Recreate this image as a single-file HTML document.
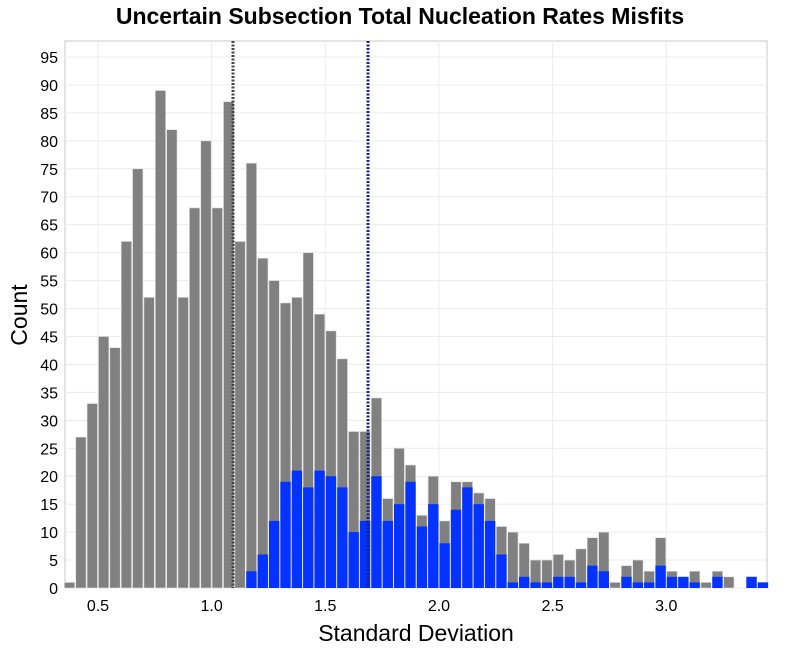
<!DOCTYPE html>
<html><head><meta charset="utf-8"><style>
body{margin:0;background:#fff;}
svg text{font-family:"Liberation Sans","DejaVu Sans",sans-serif;}
</style></head><body>
<svg id="chart" width="800" height="650" xmlns="http://www.w3.org/2000/svg">
<text x="400" y="24" text-anchor="middle" font-size="23" font-weight="bold" fill="#000">Uncertain Subsection Total Nucleation Rates Misfits</text>
<rect x="65" y="41" width="702" height="547" fill="#fff" stroke="#c8c8c8"/>
<g id="grid"></g><g id="bars"></g><g id="lines"></g><g id="ticks"></g>
<text x="416" y="641" text-anchor="middle" font-size="23" fill="#000">Standard Deviation</text>
<text transform="translate(27,315) rotate(-90)" text-anchor="middle" font-size="23" fill="#000">Count</text>
</svg>
<script>
const binStart = 0.35;
const binWidth = 0.05;
const grayCounts = [1,27,33,45,43,62,75,52,89,82,52,68,80,68,87,62,76,59,55,51,52,60,49,46,41,28,28,34,16,25,22,13,20,12,19,19,17,16,11,10,8,5,5,6,5,7,9,10,1,4,5,3,9,3,2,3,1,3,2,0,2,1];
const blueCounts = [0,0,0,0,0,0,0,0,0,0,0,0,0,0,0,0,3,6,12,19,21,18,21,20,18,10,12,20,12,15,19,11,15,8,14,18,15,12,6,1,2,1,1,2,2,1,4,3,0,2,1,1,4,2,2,1,0,2,0,0,2,1];
const vLines = [1.094, 1.688];
const yTicks = [0,5,10,15,20,25,30,35,40,45,50,55,60,65,70,75,80,85,90,95];
const xTicks = [0.5,1.0,1.5,2.0,2.5,3.0];
const NS='http://www.w3.org/2000/svg';
const X0=65,X1=767,Y0=588,Y1=41,XMIN=0.355,XMAX=3.443;
const xs=v=>X0+(v-XMIN)/(XMAX-XMIN)*(X1-X0);
const ys=v=>Y0-v*(Y0-57)/95;
function mk(t,a,p){const e=document.createElementNS(NS,t);for(const k in a)e.setAttribute(k,a[k]);document.getElementById(p).appendChild(e);return e;}
yTicks.forEach(v=>{
 const g=mk('line',{x1:X0,x2:X1,y1:ys(v),y2:ys(v),stroke:'#ececec'},'grid');
 
 
 const t=mk('text',{x:58,y:ys(v)+6,'text-anchor':'end','font-size':'16',fill:'#000'},'ticks');
 t.textContent=v;
 
 
});
xTicks.forEach(v=>{
 const g=mk('line',{x1:xs(v),x2:xs(v),y1:Y1,y2:Y0,stroke:'#ececec'},'grid');
 
 
 const t=mk('text',{x:xs(v),y:611,'text-anchor':'middle','font-size':'16',fill:'#000'},'ticks');
 t.textContent=v.toFixed(1);
 
 
});
grayCounts.forEach((c,i)=>{
 const a=binStart+i*binWidth,b=a+binWidth;
 const x=xs(a),w=xs(b)-xs(a);
 if(c>0){
  const r=mk('rect',{x:x+0.5,y:ys(c),width:w-1,height:ys(0)-ys(c),fill:'#808080',stroke:'#e0e0e0','stroke-width':'0.6'},'bars');
  
  
 }
 const bc=blueCounts[i];
 if(bc>0){
  const r2=mk('rect',{x:x+0.5,y:ys(bc),width:w-1,height:ys(0)-ys(bc),fill:'#0433ff'},'bars');
  
  
 }
});
vLines.forEach((v,i)=>{
 const l=mk('line',{x1:xs(v),x2:xs(v),y1:Y1,y2:Y0,stroke:i?'#1a237e':'#444','stroke-width':'3','stroke-dasharray':'2,1.5'},'lines');
 
 
});
</script>
</body></html>
